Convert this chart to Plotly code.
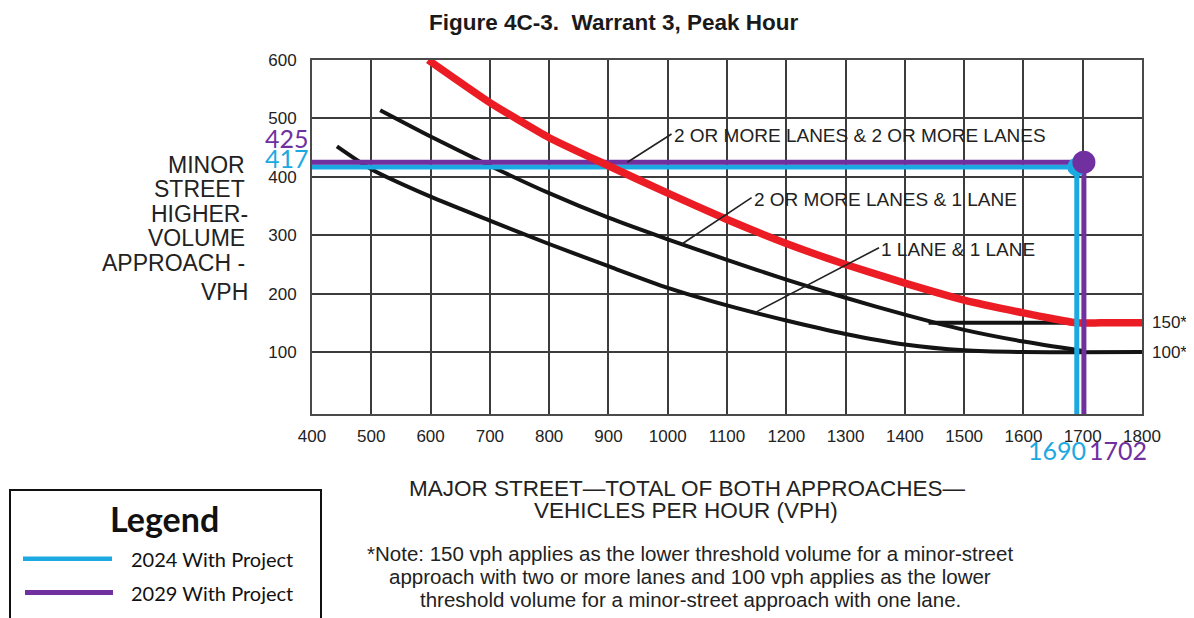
import plotly.graph_objects as go

# ---------------- data ----------------
x_ticks = [400, 500, 600, 700, 800, 900, 1000, 1100, 1200, 1300, 1400, 1500, 1600, 1700, 1800]
y_ticks = [100, 200, 300, 400, 500, 600]

# 2 OR MORE LANES & 2 OR MORE LANES (highlighted red)
red_x = [596, 700, 800, 900, 1000, 1100, 1200, 1300, 1400, 1500, 1600, 1650, 1690, 1730, 1800]
red_y = [600, 527, 467, 419, 372, 327, 286, 250, 218, 189, 167, 157, 150, 150, 150]

# original black flat portion at 150
flat150_x = [1440, 1700]
flat150_y = [150, 150]

# 2 OR MORE LANES & 1 LANE
mid_x = [515, 600, 700, 800, 900, 1000, 1100, 1200, 1300, 1400, 1500, 1600, 1700]
mid_y = [514, 469, 419, 372, 330, 293, 258, 224, 193, 164, 138, 118, 102]

# 1 LANE & 1 LANE
low_x = [442, 500, 600, 700, 800, 900, 1000, 1100, 1200, 1300, 1400, 1500, 1600, 1800]
low_y = [452, 413, 366, 325, 285, 247, 210, 180, 154, 131, 113, 103, 100, 100]

scenarios = ["2024 With Project", "2029 With Project"]
major_vph = [1690, 1702]
minor_vph = [417, 425]
scen_colors = ["#1CA9E1", "#7030A0"]

X_MIN, X_MAX = 400, 1800
Y_MIN, Y_MAX = -6, 600

# ---------------- layout geometry ----------------
# page body has an 8px margin; positions below are in page pixels
BODY = 8
PAGE_W, PAGE_H = 1194, 618
W, H = PAGE_W - BODY, PAGE_H - BODY
PL, PR, PT, PB = 312, 1142, 60, 414
ML, MT = PL - BODY, PT - BODY
MR, MB = PAGE_W - PR, PAGE_H - PB


def px_x(px):
    return (px - PL) / (PR - PL)


def px_y(py):
    return (PB - py) / (PB - PT)


ARIAL = "Liberation Sans, Arial, sans-serif"
CALIBRI = "Lato, Noto Sans, sans-serif"

fig = go.Figure()

black = "#141414"
for xs, ys in [(low_x, low_y), (mid_x, mid_y), (flat150_x, flat150_y)]:
    fig.add_trace(go.Scatter(x=xs, y=ys, mode="lines",
                             line=dict(color=black, width=4, shape="spline", smoothing=0.6),
                             hoverinfo="skip", showlegend=False))

# horizontal project lines (under red)
for i in range(len(scenarios)):
    fig.add_trace(go.Scatter(x=[X_MIN, major_vph[i]], y=[minor_vph[i], minor_vph[i]], mode="lines",
                             line=dict(color=scen_colors[i], width=5), hoverinfo="skip", showlegend=False))

fig.add_trace(go.Scatter(x=red_x, y=red_y, mode="lines",
                         line=dict(color="#EC1C24", width=7.5, shape="spline", smoothing=0.5),
                         hoverinfo="skip", showlegend=False))

# vertical project lines and markers
msize = [19, 23]
for i in range(len(scenarios)):
    fig.add_trace(go.Scatter(x=[major_vph[i], major_vph[i]], y=[minor_vph[i], Y_MIN], mode="lines",
                             line=dict(color=scen_colors[i], width=5), hoverinfo="skip", showlegend=False))
for i in range(len(scenarios)):
    fig.add_trace(go.Scatter(x=[major_vph[i]], y=[minor_vph[i]], mode="markers",
                             marker=dict(color=scen_colors[i], size=msize[i]),
                             hoverinfo="skip", showlegend=False))

ann = []
# title
ann.append(dict(xref="paper", yref="paper", x=px_x(614), y=px_y(22), text="Figure 4C-3.\u00a0\u00a0Warrant 3, Peak Hour",
                showarrow=False, xanchor="center", yanchor="middle",
                font=dict(family=ARIAL, size=22.5, color="#1a1a1a", weight="bold")))

# y-axis title lines
ylines = ["MINOR", "STREET", "HIGHER-", "VOLUME", "APPROACH -", "VPH"]
ycent = [165, 189, 214, 238, 263, 292]
yright = [247, 247, 250, 247, 247, 250]
for t, yc, xr in zip(ylines, ycent, yright):
    ann.append(dict(xref="paper", yref="paper", x=px_x(xr), y=px_y(yc), text=t, showarrow=False,
                    xanchor="right", yanchor="middle", font=dict(family=ARIAL, size=23, color="#222")))

# x-axis title lines
ann.append(dict(xref="paper", yref="paper", x=px_x(687), y=px_y(489),
                text="MAJOR STREET\u2014TOTAL OF BOTH APPROACHES\u2014", showarrow=False,
                xanchor="center", yanchor="middle", font=dict(family=ARIAL, size=22.5, color="#222")))
ann.append(dict(xref="paper", yref="paper", x=px_x(686), y=px_y(511),
                text="VEHICLES PER HOUR (VPH)", showarrow=False,
                xanchor="center", yanchor="middle", font=dict(family=ARIAL, size=22.5, color="#222")))

# note
note_lines = ["*Note: 150 vph applies as the lower threshold volume for a minor-street",
              "approach with two or more lanes and 100 vph applies as the lower",
              "threshold volume for a minor-street approach with one lane."]
for t, yc in zip(note_lines, [553, 576, 599]):
    ann.append(dict(xref="paper", yref="paper", x=px_x(690), y=px_y(yc), text=t, showarrow=False,
                    xanchor="center", yanchor="middle", font=dict(family=ARIAL, size=20.5, color="#222")))

# curve labels with leader lines
labels = [("2 OR MORE LANES & 2 OR MORE LANES", 932, 425, 1009, 475),
          ("2 OR MORE LANES & 1 LANE", 1024, 285, 1144, 366),
          ("1 LANE & 1 LANE", 1148, 168, 1359, 280)]
for t, x0, y0, x1, y1 in labels:
    ann.append(dict(xref="x", yref="y", x=x0, y=y0, ax=x1, ay=y1, axref="x", ayref="y",
                    text="", showarrow=True, arrowhead=0, arrowwidth=1.6, arrowcolor="#222"))
    ann.append(dict(xref="x", yref="y", x=x1 - 2, y=y1 - 4, text=t, showarrow=False,
                    xanchor="left", yanchor="middle", font=dict(family=ARIAL, size=19, color="#222")))

# threshold labels
for v, t in [(150, "150*"), (100, "100*")]:
    ann.append(dict(xref="paper", yref="y", x=px_x(1150), y=v, text=t, showarrow=False,
                    xanchor="left", yanchor="middle", font=dict(family=ARIAL, size=17, color="#222")))

# value callouts
ann.append(dict(xref="paper", yref="paper", x=px_x(311), y=px_y(137.5), text=str(minor_vph[1]), showarrow=False,
                xanchor="right", yanchor="middle", font=dict(family=CALIBRI, size=25, color=scen_colors[1])))
ann.append(dict(xref="paper", yref="paper", x=px_x(311), y=px_y(158), text=str(minor_vph[0]), showarrow=False,
                xanchor="right", yanchor="middle", font=dict(family=CALIBRI, size=25, color=scen_colors[0])))
ann.append(dict(xref="paper", yref="paper", x=px_x(1088), y=px_y(450), text=str(major_vph[0]), showarrow=False,
                xanchor="right", yanchor="middle", font=dict(family=CALIBRI, size=25, color=scen_colors[0])))
ann.append(dict(xref="paper", yref="paper", x=px_x(1087), y=px_y(450), text=str(major_vph[1]), showarrow=False,
                xanchor="left", yanchor="middle", font=dict(family=CALIBRI, size=25, color=scen_colors[1])))

# custom legend box
shapes = [dict(type="rect", xref="paper", yref="paper", x0=px_x(10), x1=px_x(321), y0=px_y(640), y1=px_y(490),
               line=dict(color="#111", width=2), fillcolor="white", layer="above")]
ann.append(dict(xref="paper", yref="paper", x=px_x(164), y=px_y(518), text="Legend", showarrow=False,
                xanchor="center", yanchor="middle", font=dict(family=CALIBRI, size=34, color="#111", weight="bold")))
for i, (yc, lx0, lx1) in enumerate([(558.7, 23, 112), (592.5, 25, 113)]):
    shapes.append(dict(type="line", xref="paper", yref="paper", x0=px_x(lx0), x1=px_x(lx1),
                       y0=px_y(yc), y1=px_y(yc), line=dict(color=scen_colors[i], width=5 if i else 4.5),
                       layer="above"))
    ann.append(dict(xref="paper", yref="paper", x=px_x(129), y=px_y(yc), text=scenarios[i], showarrow=False,
                    xanchor="left", yanchor="middle", font=dict(family=CALIBRI, size=20, color="#111")))

fig.update_layout(
    width=W, height=H, autosize=False,
    margin=dict(l=ML, r=MR, t=MT, b=MB, pad=0),
    paper_bgcolor="white", plot_bgcolor="white",
    showlegend=False,
    annotations=ann, shapes=shapes,
    font=dict(family=ARIAL, color="#222"),
)
fig.update_xaxes(range=[X_MIN, X_MAX], tickvals=x_ticks, ticktext=[str(v) for v in x_ticks],
                 showgrid=True, gridcolor="#3c3c3c", gridwidth=1.6,
                 showline=True, linecolor="#4a4a4a", linewidth=2, mirror=True,
                 ticks="", ticklabelstandoff=6, zeroline=False,
                 tickfont=dict(family=ARIAL, size=17, color="#222"))
fig.update_yaxes(range=[Y_MIN, Y_MAX], tickvals=y_ticks, ticktext=[str(v) for v in y_ticks],
                 showgrid=True, gridcolor="#3c3c3c", gridwidth=1.6,
                 showline=True, linecolor="#4a4a4a", linewidth=2, mirror=True,
                 ticks="", ticklabelstandoff=10, zeroline=False,
                 tickfont=dict(family=ARIAL, size=17, color="#222"))

fig.write_html("out.html")
